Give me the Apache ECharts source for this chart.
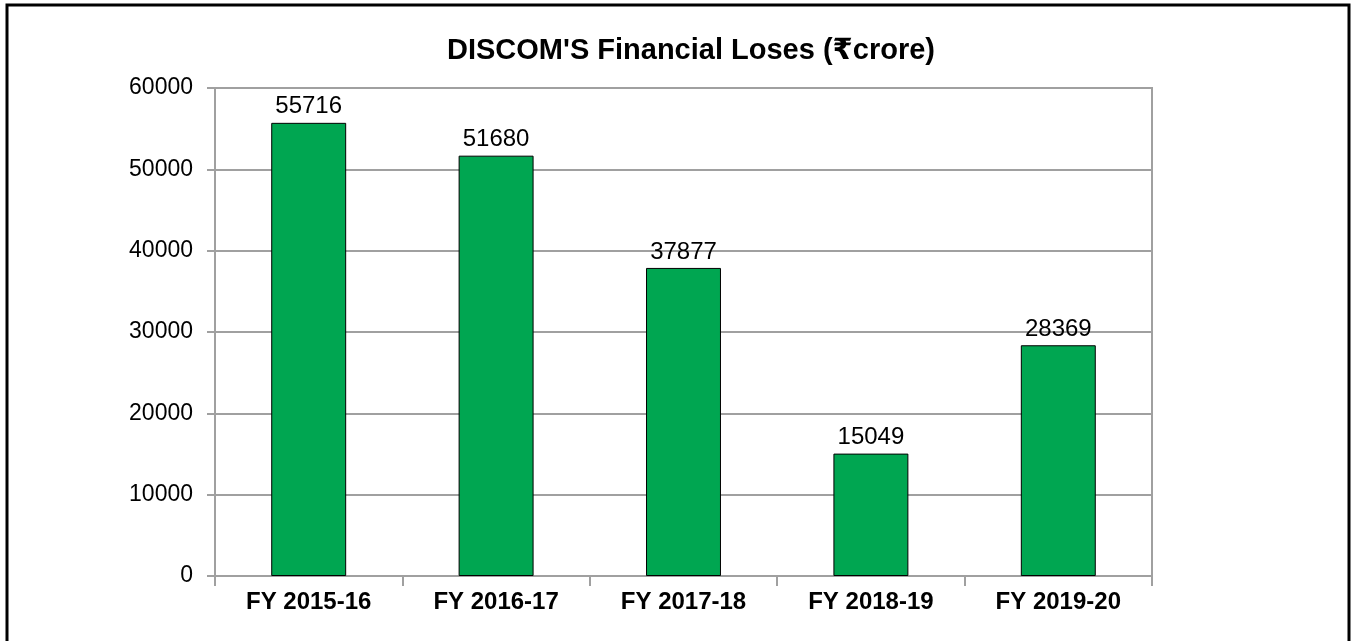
<!DOCTYPE html>
<html>
<head>
<meta charset="utf-8">
<script src="https://cdn.jsdelivr.net/npm/echarts@6/dist/echarts.min.js"></script>
<style>
  html, body { margin: 0; padding: 0; background: #fff; }
  #chart { width: 1351px; height: 641px; }
</style>
</head>
<body>
<div id="chart"></div>
<script>
var years = ['FY 2015-16', 'FY 2016-17', 'FY 2017-18', 'FY 2018-19', 'FY 2019-20'];
var losses = [55716, 51680, 37877, 15049, 28369];
var yTicks = [0, 10000, 20000, 30000, 40000, 50000, 60000];

var font = 'Arial, "Liberation Sans", "DejaVu Sans", sans-serif';
var gray = '#a0a0a0';

var lossChart = echarts.init(document.getElementById('chart'));

lossChart.setOption({
    animation: false,
    title: {
        text: 'DISCOM\'S Financial Loses (\u20b9crore)',
        left: 447,
        top: 36,
        padding: 0,
        textStyle: { fontFamily: font, fontSize: 29, fontWeight: 'bold', color: '#000' }
    },
    graphic: [{
        type: 'polyline',
        shape: { points: [[7, 645], [7, 5], [1349, 5], [1349, 645]] },
        style: { stroke: '#000', lineWidth: 3, fill: null }
    }],
    grid: {
        left: 215, right: 199, top: 88, bottom: 65,
        show: true, borderColor: gray, borderWidth: 2
    },
    xAxis: {
        type: 'category',
        data: years,
        axisLine: { lineStyle: { color: gray, width: 2 } },
        axisTick: { show: true, length: 10, lineStyle: { color: gray, width: 2 } },
        axisLabel: { margin: 14, fontFamily: font, fontSize: 24, fontWeight: 'bold', color: '#000' }
    },
    yAxis: {
        type: 'value',
        min: yTicks[0],
        max: yTicks[yTicks.length - 1],
        interval: 10000,
        axisLine: { show: true, lineStyle: { color: gray, width: 2 } },
        axisTick: { show: true, length: 8, lineStyle: { color: gray, width: 2 } },
        splitLine: { lineStyle: { color: gray, width: 2 } },
        axisLabel: {
            margin: 22, fontFamily: font, fontSize: 23, color: '#000',
            formatter: function (v) { return String(v); }
        }
    },
    series: [{
        type: 'bar',
        data: losses,
        barWidth: '40%',
        itemStyle: { color: '#00a651', borderColor: '#000', borderWidth: 1 },
        label: {
            show: true, position: 'top', distance: 4,
            fontFamily: font, fontSize: 24, color: '#000'
        }
    }]
});
</script>
</body>
</html>
